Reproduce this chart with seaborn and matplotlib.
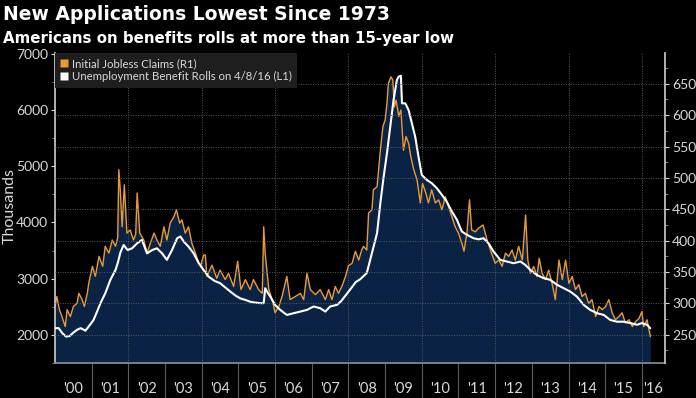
import pandas as pd
import matplotlib.pyplot as plt
import seaborn as sns
from matplotlib.ticker import FixedLocator, FixedFormatter, MultipleLocator, NullFormatter
from matplotlib.lines import Line2D

# Unemployment benefit rolls (continuing claims, thousands, left axis)
ROLLS_T = [2000.00, 2000.10, 2000.20, 2000.30, 2000.40, 2000.50, 2000.60, 2000.70, 2000.83, 2000.92,
           2001.05, 2001.15, 2001.24, 2001.37, 2001.51, 2001.65, 2001.72, 2001.78, 2001.87, 2001.98,
           2002.10, 2002.24, 2002.37, 2002.51, 2002.65, 2002.78, 2002.92, 2003.05, 2003.19, 2003.33,
           2003.42, 2003.51, 2003.64, 2003.78, 2003.92, 2004.05, 2004.19, 2004.35, 2004.50, 2004.65,
           2004.78, 2004.92, 2005.05, 2005.20, 2005.32, 2005.45, 2005.60, 2005.69, 2005.73, 2005.80,
           2005.87, 2006.00, 2006.14, 2006.32, 2006.50, 2006.69, 2006.87, 2007.05, 2007.23, 2007.37,
           2007.50, 2007.69, 2007.80, 2007.92, 2008.05, 2008.20, 2008.32, 2008.50, 2008.64, 2008.78,
           2008.87, 2008.96, 2009.05, 2009.14, 2009.23, 2009.32, 2009.37, 2009.43, 2009.46, 2009.55,
           2009.64, 2009.73, 2009.82, 2009.91, 2010.00, 2010.14, 2010.27, 2010.41, 2010.55, 2010.68,
           2010.82, 2010.96, 2011.09, 2011.23, 2011.41, 2011.55, 2011.68, 2011.82, 2011.96, 2012.14,
           2012.32, 2012.50, 2012.69, 2012.82, 2012.96, 2013.14, 2013.32, 2013.50, 2013.69, 2013.87,
           2014.05, 2014.23, 2014.41, 2014.59, 2014.78, 2014.96, 2015.14, 2015.32, 2015.50, 2015.69,
           2015.87, 2016.00, 2016.14, 2016.23]
ROLLS = [2120, 2120, 2030, 1970, 1980, 2040, 2090, 2120, 2075, 2150,
         2265, 2420, 2565, 2740, 2980, 3155, 3300, 3460, 3600, 3510,
         3540, 3630, 3690, 3450, 3510, 3540, 3450, 3335, 3510, 3720,
         3750, 3660, 3570, 3450, 3275, 3155, 3035, 2960, 2920, 2840,
         2770, 2700, 2650, 2620, 2590, 2575, 2565, 2565, 2830, 2750,
         2680, 2535, 2445, 2355, 2385, 2415, 2445, 2505, 2475, 2415,
         2505, 2535, 2600, 2700, 2810, 2940, 2990, 3100, 3455, 3810,
         4345, 4815, 5230, 5705, 6180, 6535, 6595, 6610, 6120, 6120,
         6000, 5765, 5525, 5170, 4845, 4755, 4700, 4610, 4490, 4370,
         4195, 4045, 3840, 3780, 3720, 3700, 3720, 3630, 3480, 3335,
         3305, 3275, 3305, 3245, 3155, 3065, 3010, 2980, 2890, 2830,
         2770, 2680, 2535, 2445, 2385, 2355, 2265, 2235, 2235, 2210,
         2180, 2210, 2180, 2120]

# Initial jobless claims (thousands, right axis)
CLAIMS_T = [2000.00, 2000.05, 2000.12, 2000.19, 2000.28, 2000.33, 2000.42, 2000.50, 2000.60, 2000.65,
            2000.74, 2000.80, 2000.88, 2000.92, 2001.02, 2001.10, 2001.20, 2001.30, 2001.37, 2001.47,
            2001.56, 2001.65, 2001.71, 2001.74, 2001.78, 2001.83, 2001.89, 2001.96, 2002.05, 2002.14,
            2002.20, 2002.24, 2002.31, 2002.42, 2002.51, 2002.60, 2002.70, 2002.78, 2002.87, 2002.97,
            2003.05, 2003.14, 2003.24, 2003.31, 2003.40, 2003.46, 2003.55, 2003.64, 2003.73, 2003.83,
            2003.92, 2003.98, 2004.05, 2004.10, 2004.14, 2004.28, 2004.41, 2004.50, 2004.64, 2004.73,
            2004.87, 2004.98, 2005.07, 2005.19, 2005.32, 2005.41, 2005.55, 2005.65, 2005.69, 2005.73,
            2005.83, 2005.92, 2006.00, 2006.10, 2006.19, 2006.32, 2006.41, 2006.55, 2006.69, 2006.78,
            2006.87, 2006.96, 2007.10, 2007.23, 2007.37, 2007.46, 2007.55, 2007.64, 2007.73, 2007.82,
            2007.92, 2008.00, 2008.10, 2008.19, 2008.28, 2008.36, 2008.41, 2008.50, 2008.55, 2008.64,
            2008.68, 2008.78, 2008.87, 2008.94, 2009.00, 2009.05, 2009.09, 2009.16, 2009.21, 2009.25,
            2009.30, 2009.37, 2009.43, 2009.50, 2009.57, 2009.64, 2009.70, 2009.78, 2009.87, 2009.96,
            2010.02, 2010.11, 2010.18, 2010.27, 2010.37, 2010.46, 2010.55, 2010.64, 2010.73, 2010.82,
            2010.91, 2011.00, 2011.09, 2011.15, 2011.23, 2011.30, 2011.36, 2011.46, 2011.55, 2011.67,
            2011.78, 2011.90, 2012.00, 2012.10, 2012.19, 2012.28, 2012.37, 2012.46, 2012.55, 2012.64,
            2012.74, 2012.83, 2012.89, 2012.96, 2013.05, 2013.14, 2013.20, 2013.28, 2013.37, 2013.46,
            2013.55, 2013.64, 2013.74, 2013.83, 2013.92, 2014.01, 2014.10, 2014.19, 2014.28, 2014.37,
            2014.46, 2014.55, 2014.64, 2014.74, 2014.83, 2014.92, 2015.01, 2015.10, 2015.19, 2015.28,
            2015.37, 2015.46, 2015.55, 2015.65, 2015.74, 2015.83, 2015.92, 2016.00, 2016.05, 2016.14,
            2016.23]
CLAIMS = [295, 311, 290, 279, 263, 290, 279, 295, 300, 316,
          306, 295, 316, 332, 359, 343, 375, 359, 391, 380,
          401, 391, 405, 513, 481, 422, 489, 412, 417, 401,
          410, 476, 412, 401, 380, 396, 412, 401, 391, 422,
          401, 428, 438, 449, 428, 433, 412, 422, 396, 380,
          364, 361, 377, 377, 343, 361, 340, 353, 338, 348,
          327, 367, 322, 338, 322, 338, 322, 316, 422, 380,
          322, 306, 285, 295, 311, 343, 306, 311, 316, 306,
          348, 322, 314, 322, 306, 322, 306, 327, 316, 327,
          343, 360, 364, 383, 369, 385, 391, 385, 444, 449,
          481, 486, 544, 582, 592, 619, 651, 661, 656, 613,
          624, 598, 608, 544, 566, 555, 534, 513, 497, 460,
          491, 476, 460, 481, 460, 465, 449, 470, 454, 438,
          422, 412, 396, 383, 412, 465, 417, 414, 420, 425,
          401, 380, 364, 369, 359, 380, 375, 385, 369, 391,
          369, 441, 369, 348, 359, 343, 372, 348, 338, 353,
          332, 306, 369, 338, 369, 332, 343, 322, 330, 311,
          316, 300, 306, 279, 295, 290, 295, 306, 285, 274,
          279, 285, 269, 274, 263, 271, 276, 287, 263, 274,
          247]

YEARS = list(range(2000, 2017))
YEAR_LABELS = ["'00", "'01", "'02", "'03", "'04", "'05", "'06", "'07", "'08",
               "'09", "'10", "'11", "'12", "'13", "'14", "'15", "'16"]
GRID_YEARS = list(range(2002, 2017, 2))
LEFT_TICKS = [2000, 3000, 4000, 5000, 6000, 7000]
RIGHT_TICKS = [250, 300, 350, 400, 450, 500, 550, 600, 650]

NAVY = "#0a2244"
ORANGE = "#eb9a33"
TXT = "#d9d9d9"
X_END = 2016.63

sns.set_theme(style="ticks", rc={
    "figure.facecolor": "black", "axes.facecolor": "black",
    "axes.edgecolor": "#c8c8c8", "text.color": TXT,
    "xtick.color": TXT, "ytick.color": TXT, "axes.grid": False,
})
plt.rcParams["font.family"] = ["Lato", "DejaVu Sans"]

rolls = pd.DataFrame({"t": ROLLS_T, "v": ROLLS})
claims = pd.DataFrame({"t": CLAIMS_T, "v": CLAIMS})

fig = plt.figure(figsize=(6.96, 3.98), dpi=100)
ax = fig.add_axes([55 / 696, 35 / 398, 610 / 696, 310 / 398])
ax2 = ax.twinx()
ax.set_xlim(2000, X_END)
ax.set_ylim(1500, 7015)
ax2.set_ylim(205, 699)

# both series are drawn on ax; claims go through the right axis' data transform
ax.fill_between(claims["t"], claims["v"], 0, transform=ax2.transData,
                color=NAVY, lw=0, zorder=1)
ax.fill_between(rolls["t"], rolls["v"], 0, color=NAVY, lw=0, zorder=1)
for yr in GRID_YEARS:
    ax.axvline(yr, color="#5a5a5a", lw=0.7, ls=(0, (1, 1.5)), zorder=1.5)
sns.lineplot(data=claims, x="t", y="v", ax=ax, color=ORANGE, lw=1.0,
             estimator=None, transform=ax2.transData, zorder=2)
sns.lineplot(data=rolls, x="t", y="v", ax=ax, color="white", lw=1.5,
             estimator=None, zorder=3)
ax.set_xlim(2000, X_END)
ax.set_ylim(1500, 7015)
ax.set_xlabel("")
ax.set_ylabel("")

ax2.yaxis.grid(True, color="#5a5a5a", lw=0.7, ls=(0, (1, 1.5)))

# x axis: long separator ticks between years, labels centred in each year
ax.xaxis.set_major_locator(FixedLocator(YEARS[1:]))
ax.xaxis.set_major_formatter(NullFormatter())
mid = [y + 0.5 for y in YEARS[:-1]] + [(YEARS[-1] + X_END) / 2]
ax.xaxis.set_minor_locator(FixedLocator(mid))
ax.xaxis.set_minor_formatter(FixedFormatter(YEAR_LABELS))
ax.tick_params(axis="x", which="major", length=25, width=0.8, color="#5c5c5c", direction="out")
ax.tick_params(axis="x", which="minor", length=0, pad=14, labelsize=10.5, labelcolor=TXT)

ax.set_yticks(LEFT_TICKS)
ax.yaxis.set_minor_locator(MultipleLocator(500))
ax.tick_params(axis="y", which="major", length=3, width=0.8, color=TXT,
               labelsize=10, labelcolor=TXT, pad=2, left=True)
ax.tick_params(axis="y", which="minor", length=2, width=0.6, color="#909090", left=True)

ax2.set_yticks(RIGHT_TICKS)
ax2.yaxis.set_minor_locator(MultipleLocator(25))
ax2.tick_params(axis="y", which="major", length=3, width=0.8, color=TXT,
                labelsize=10, labelcolor=TXT, pad=2, right=True)
ax2.tick_params(axis="y", which="minor", length=2, width=0.6, color="#909090", right=True)

for s in ["top", "right"]:
    ax.spines[s].set_visible(False)
for s in ["top", "left", "bottom"]:
    ax2.spines[s].set_visible(False)
ax.spines["left"].set_color("#c8c8c8")
ax.spines["bottom"].set_color("#8a8a8a")
ax2.spines["right"].set_color("#c8c8c8")

handles = [Line2D([], [], ls="none", marker="s", ms=6, mfc=ORANGE, mec="none"),
           Line2D([], [], ls="none", marker="s", ms=6, mfc="white", mec="none")]
leg = ax2.legend(handles, ["Initial Jobless Claims (R1)",
                           "Unemployment Benefit Rolls on 4/8/16 (L1)"],
                 loc="upper left", bbox_to_anchor=(0, 1), borderaxespad=0,
                 frameon=True, facecolor="#1e1e1e", edgecolor="none", framealpha=1,
                 fontsize=8.2, labelcolor=TXT, handlelength=0.7, handletextpad=0.35,
                 borderpad=0.45, labelspacing=0.2)
leg.get_frame().set_boxstyle("square", pad=0)

fig.text(3 / 696, 1 - 15 / 398, "New Applications Lowest Since 1973", fontsize=13.5,
         fontweight="bold", color="white", va="center", ha="left",
         family=["DejaVu Sans"])
fig.text(3 / 696, 1 - 38 / 398, "Americans on benefits rolls at more than 15-year low",
         fontsize=10.8, fontweight="bold", color="white", va="center", ha="left",
         family=["DejaVu Sans"])
fig.text(10 / 696, 1 - 206 / 398, "Thousands", fontsize=11.5, color=TXT,
         rotation=90, va="center", ha="center")

fig.savefig("out.png", dpi=100, facecolor="black")
